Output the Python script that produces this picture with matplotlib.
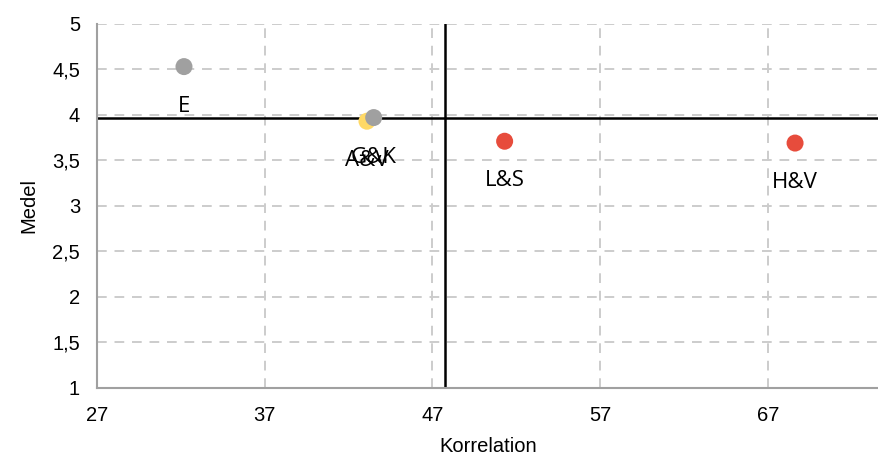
import matplotlib
matplotlib.use("Agg")
import matplotlib.pyplot as plt

plt.rcParams["font.family"] = ["Liberation Sans", "DejaVu Sans"]

labels = ["E", "A&V", "G&K", "L&S", "H&V"]
korrelation = [32.2, 43.1, 43.5, 51.3, 68.6]
medel = [4.53, 3.93, 3.97, 3.71, 3.69]
colors = ["#A0A0A0", "#FFD966", "#A0A0A0", "#E74C3C", "#E74C3C"]
x_ticks = [27, 37, 47, 57, 67]
y_ticks = [1, 1.5, 2, 2.5, 3, 3.5, 4, 4.5, 5]
y_ticklabels = ["1", "1,5", "2", "2,5", "3", "3,5", "4", "4,5", "5"]
vline_x = 47.75
hline_y = 3.97

fig = plt.figure(figsize=(8.79, 4.58), dpi=100)
ax = fig.add_axes([0.110, 0.153, 0.890, 0.795])

ax.set_xlim(27, 73.6)
ax.set_ylim(1, 5)
ax.set_xticks(x_ticks)
ax.set_yticks(y_ticks)
ax.set_yticklabels(y_ticklabels)
ax.grid(True, linestyle=(0, (5, 4)), color="#CCCCCC", linewidth=1.4)
ax.set_axisbelow(True)
for s in ["top", "right"]:
    ax.spines[s].set_visible(False)
for s in ["left", "bottom"]:
    ax.spines[s].set_color("#A0A0A0")
    ax.spines[s].set_linewidth(1.5)
ax.tick_params(axis="x", length=0, labelsize=14.5, pad=13)
ax.tick_params(axis="y", length=0, labelsize=14.5, pad=12)

ax.axvline(vline_x, color="black", lw=1.8, zorder=2)
ax.axhline(hline_y, color="black", lw=1.8, zorder=2)

ax.scatter(korrelation, medel, s=150, c=colors, zorder=3, edgecolors="none")
for lab, xv, yv in zip(labels, korrelation, medel):
    ax.annotate(lab, (xv, yv), xytext=(0, -28.5), textcoords="offset points",
                ha="center", va="center", fontsize=16, family="Open Sans")

ax.set_xlabel("Korrelation", fontsize=14.5, labelpad=9)
ax.set_ylabel("Medel", fontsize=14.5, labelpad=10)

fig.savefig("out.png", dpi=100)
